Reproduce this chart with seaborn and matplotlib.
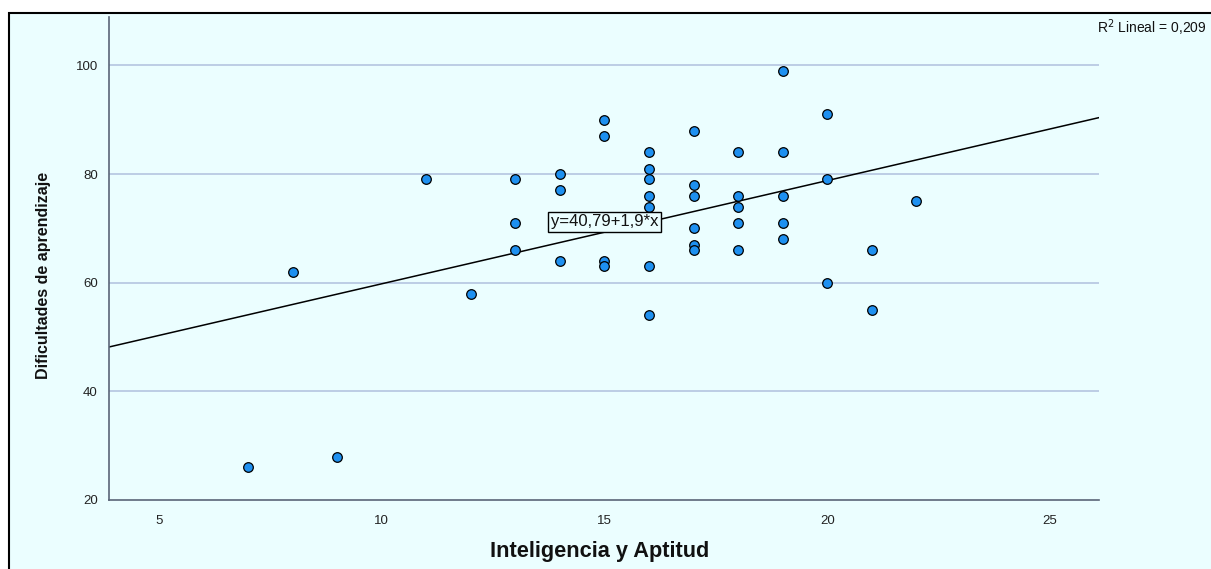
import numpy as np
import pandas as pd
import matplotlib
matplotlib.use("Agg")
import matplotlib.pyplot as plt
from matplotlib.patches import Rectangle
import seaborn as sns

# ---- data ----
inteligencia = [7, 8, 9, 11, 12,
                13, 13, 13,
                14, 14, 14,
                15, 15, 15, 15,
                16, 16, 16, 16, 16, 16, 16,
                17, 17, 17, 17, 17, 17,
                18, 18, 18, 18, 18,
                19, 19, 19, 19, 19,
                20, 20, 20,
                21, 21,
                22]
dificultades = [26, 62, 28, 79, 58,
                79, 71, 66,
                80, 77, 64,
                90, 87, 64, 63,
                84, 81, 79, 76, 74, 63, 54,
                88, 78, 76, 70, 67, 66,
                84, 76, 74, 71, 66,
                99, 84, 76, 71, 68,
                91, 79, 60,
                66, 55,
                75]
intercept = 40.79
slope = 1.9
r2_text = "0,209"
x_ticks = [5, 10, 15, 20, 25]
y_ticks = [20, 40, 60, 80, 100]
x_label = "Inteligencia y Aptitud"
y_label = "Dificultades de aprendizaje"

df = pd.DataFrame({x_label: inteligencia, y_label: dificultades})

sns.set_style("white")
plt.rcParams['font.family'] = ['Liberation Sans', 'DejaVu Sans']

W, H = 1211, 569
BG = "#EBFEFF"
fig = plt.figure(figsize=(W / 100, H / 100), dpi=100, facecolor="white")

# outer chart frame (drawn behind the axes)
frame = Rectangle((8.5 / W, -0.1), 2.0, (1 - 13.5 / H) + 0.1, transform=fig.transFigure,
                  facecolor=BG, edgecolor="black", linewidth=1.5, zorder=-10)
fig.patches.append(frame)

ax = fig.add_axes([109 / W, 1 - 500 / H, (1099 - 109) / W, (500 - 17) / H])
ax.set_zorder(5)
ax.set_facecolor(BG)

ax.set_xlim(3.88, 26.1)
ax.set_ylim(20, 108.9)

for yv in y_ticks[1:]:
    ax.axhline(yv, color="#B9C9E3", linewidth=1.3, zorder=1)

ax.axline((0, intercept), slope=slope, color="black", linewidth=1.1, zorder=2)

sns.scatterplot(data=df, x=x_label, y=y_label, ax=ax, s=48, color="#1E90F0",
                edgecolor="black", linewidth=0.9, zorder=3)

ax.set_xticks(x_ticks)
ax.set_yticks(y_ticks)
ax.tick_params(axis="both", length=0, labelsize=9.5, colors="#222222")
ax.tick_params(axis="x", pad=11)
ax.tick_params(axis="y", pad=8)
for s in ["top", "right"]:
    ax.spines[s].set_visible(False)
for s in ["left", "bottom"]:
    ax.spines[s].set_color("#5A6578")
    ax.spines[s].set_linewidth(1.2)

ax.set_xlabel("")
ax.set_ylabel("")
fig.text(600 / W, 1 - 551 / H, x_label, ha="center", va="center",
         fontsize=15.7, fontweight="bold", color="#111111", zorder=6)
fig.text(44 / W, 1 - 275 / H, y_label, ha="center", va="center", rotation=90,
         fontsize=11.5, fontweight="bold", color="#111111", zorder=6)

ax.text(15.0, intercept + slope * 15.0 + 1.9, "y=40,79+1,9*x", ha="center", va="center",
        fontsize=12, color="#111111", zorder=4,
        bbox=dict(boxstyle="square,pad=0.15", facecolor=BG, edgecolor="black", linewidth=1.0))

fig.text(1206 / W, 1 - 28 / H, "R$^2$ Lineal = " + r2_text, ha="right", va="center",
         fontsize=10, color="#111111", zorder=6)

fig.savefig("out.png", dpi=100, facecolor="white")
